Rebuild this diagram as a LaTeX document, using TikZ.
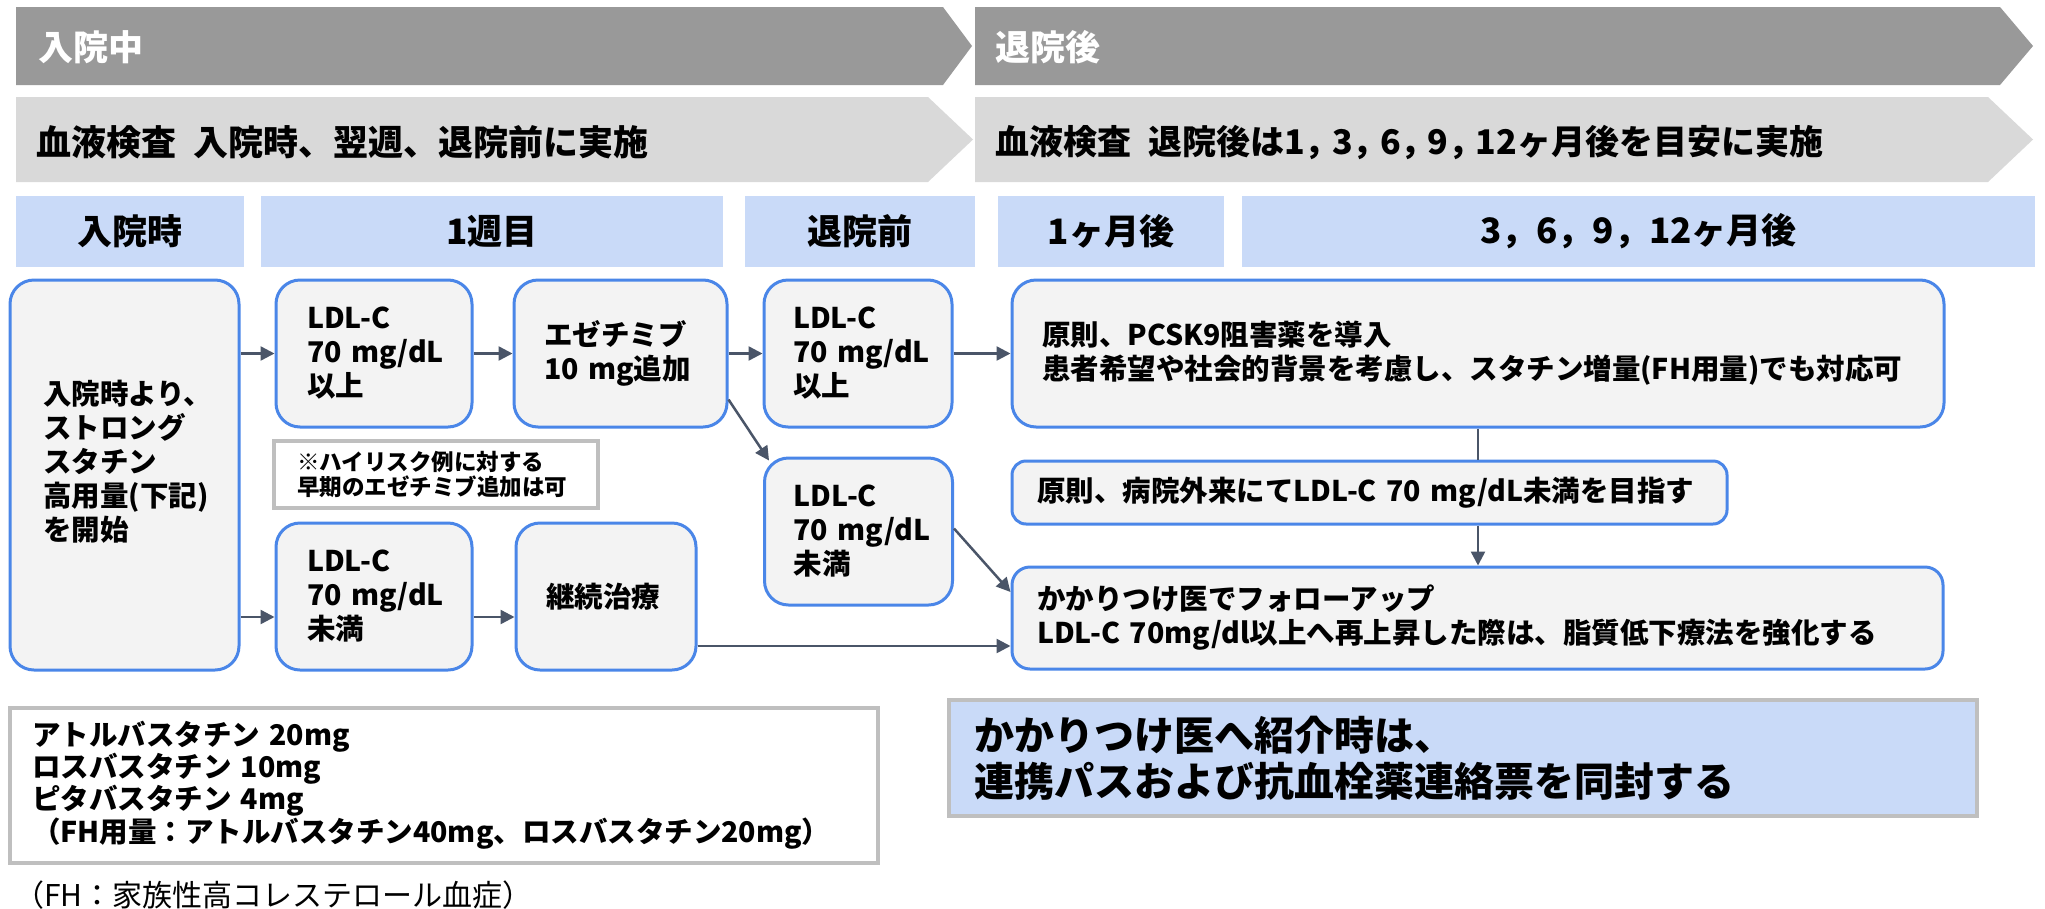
\documentclass[tikz,border=0pt]{standalone}
\usepackage{fontspec}
\setmainfont{Noto Sans CJK JP}
\usetikzlibrary{arrows.meta,calc}
\definecolor{bandDark}{HTML}{999999}
\definecolor{bandLight}{HTML}{D9D9D9}
\definecolor{hdrBlue}{HTML}{C9DAF8}
\definecolor{boxBorder}{HTML}{4A86E8}
\definecolor{boxFill}{HTML}{F3F3F3}
\definecolor{arrowCol}{HTML}{4A5568}
\definecolor{grayBorder}{HTML}{BFBFBF}
\newcommand{\tcm}{，\hspace{-0.2em}}
\tikzset{
  bandtext/.style={anchor=west, inner sep=0pt, font=\bfseries\fontsize{35}{40}\selectfont},
  hdr/.style={fill=hdrBlue, inner sep=0pt, font=\bfseries\fontsize{35}{40}\selectfont},
  flowbox/.style={draw=boxBorder, line width=3pt, fill=boxFill, rounded corners=24pt, align=left,
    inner ysep=0pt, font=\bfseries\fontsize{28.5}{34}\selectfont},
  boxtext/.style={anchor=west, align=left, inner sep=0pt, font=\bfseries\fontsize{28.5}{34}\selectfont},
  graybox/.style={draw=grayBorder, line width=4pt, fill=white, align=left, inner ysep=0pt},
  arr/.style={draw=arrowCol, line width=2.5pt, -{Triangle[length=14pt,width=14pt]}},
  plainline/.style={draw=arrowCol, line width=2.5pt},
}
\begin{document}
\begin{tikzpicture}[x=1pt,y=-1pt]
\fill[white] (0,0) rectangle (2045,908);
\useasboundingbox (0,0) rectangle (2045,908);
% phase bands
\fill[bandDark] (16,7) -- (943,7) -- (972,46) -- (943,85) -- (16,85) -- cycle;
\fill[bandDark] (975,7) -- (2000,7) -- (2033,46) -- (2000,85) -- (975,85) -- cycle;
\fill[bandLight] (16,97) -- (928,97) -- (973,139.5) -- (928,182) -- (16,182) -- cycle;
\fill[bandLight] (975,97) -- (1988,97) -- (2033,139.5) -- (1988,182) -- (975,182) -- cycle;
\node[bandtext, text=white] (inHosp) at (38,47) {入院中};
\node[bandtext, text=white] (afterDis) at (995,47) {退院後};
\node[bandtext] (bloodIn) at (36,142) {血液検査\hspace{0.5em}入院時、翌週、退院前に実施};
\node[bandtext, font=\bfseries\fontsize{34}{40}\selectfont] (bloodOut) at (995,142) {血液検査\hspace{0.5em}退院後は1\tcm 3\tcm 6\tcm 9\tcm 12ヶ月後を目安に実施};
% headers
\node[hdr, minimum width=228pt, minimum height=71pt] (h1) at (130,231) {入院時};
\node[hdr, minimum width=462pt, minimum height=71pt] (h2) at (492,231) {1週目};
\node[hdr, minimum width=230pt, minimum height=71pt] (h3) at (860,231) {退院前};
\node[hdr, minimum width=226pt, minimum height=71pt] (h4) at (1111,231) {1ヶ月後};
\node[hdr, minimum width=793pt, minimum height=71pt] (h5) at (1638.5,231) {3，6，9，12ヶ月後};
% flow boxes
\node[flowbox, minimum width=229pt, minimum height=390pt] (start) at (124.5,475) {};
\node[boxtext] (startText) at (43,462) {入院時より、\\ストロング\\スタチン\\高用量(下記)\\を開始};
\node[flowbox, inner xsep=31pt, text width=134pt, minimum width=196pt, minimum height=147pt] (A1) at (374,353.5) {LDL-C\\70~mg/dL\\以上};
\node[flowbox, inner xsep=30pt, text width=153pt, minimum width=213pt, minimum height=147pt] (E) at (620.5,353.5) {エゼチミブ\\10~mg追加};
\node[flowbox, inner xsep=29pt, text width=130pt, minimum width=188pt, minimum height=147pt] (B1) at (858,353.5) {LDL-C\\70~mg/dL\\以上};
\node[flowbox, inner xsep=29pt, text width=130pt, minimum width=188pt, minimum height=147pt] (B2) at (858.5,531.5) {LDL-C\\70~mg/dL\\未満};
\node[flowbox, inner xsep=31pt, text width=134pt, minimum width=196pt, minimum height=147pt] (A2) at (374,596.5) {LDL-C\\70~mg/dL\\未満};
\node[flowbox, inner xsep=30pt, text width=120pt, minimum width=180pt, minimum height=147pt] (K) at (606,596.5) {継続治療};
\node[graybox, inner xsep=23pt, text width=278pt, minimum width=324pt, minimum height=67pt,
  font=\bfseries\fontsize{22.5}{25.5}\selectfont] (note) at (436,474.5) {※ハイリスク例に対する\\早期のエゼチミブ追加は可};
\node[flowbox, inner xsep=30pt, text width=872pt, minimum width=932pt, minimum height=147pt] (P) at (1478,353.5) {原則、PCSK9阻害薬を導入\\患者希望や社会的背景を考慮し、スタチン増量(FH用量)でも対応可};
\node[flowbox, rounded corners=14pt, inner xsep=25pt, text width=665pt, minimum width=715pt, minimum height=63pt] (G) at (1369.5,492.5) {原則、病院外来にてLDL-C 70 mg/dL未満を目指す};
\node[flowbox, rounded corners=18pt, inner xsep=25pt, text width=881pt, minimum width=931pt, minimum height=102pt] (F) at (1477.5,618) {かかりつけ医でフォローアップ\\LDL-C 70mg/dl以上へ再上昇した際は、脂質低下療法を強化する};
% lower boxes
\node[graybox, inner xsep=22pt, text width=824pt, minimum width=868pt, minimum height=155pt,
  font=\bfseries\fontsize{28.5}{30}\selectfont] (statins) at (444,785) {アトルバスタチン 20mg\\ロスバスタチン 10mg\\ピタバスタチン 4mg\\（FH用量：アトルバスタチン40mg、ロスバスタチン20mg）};
\node[graybox, fill=hdrBlue, inner xsep=25pt, text width=978pt, minimum width=1028pt, minimum height=116pt,
  font=\bfseries\fontsize{40}{46}\selectfont] (referral) at (1463,758) {かかりつけ医へ紹介時は、\\連携パスおよび抗血栓薬連絡票を同封する};
\node[anchor=west, inner sep=0pt, font=\fontsize{30}{32}\selectfont] (footnote) at (14,895) {（FH：家族性高コレステロール血症）};
% connectors
\coordinate (lowLvl) at (0,617);
\coordinate (kLvl) at (0,646);
\draw[arr] (start.east |- A1.west) -- (A1.west);
\draw[arr] (A1.east) -- (E.west);
\draw[arr] (E.east) -- (B1.west);
\draw[arr] (B1.east) -- (P.west);
\draw[arr] ($(E.east)+(0,46)$) -- ($(B2.north west)+(6,4)$);
\draw[arr] ($(B2.east)+(0,-3)$) -- ($(F.west)+(0,-26)$);
\draw[plainline] (P.south) -- (P.south |- G.north);
\draw[arr] (P.south |- G.south) -- (P.south |- F.north);
\draw[arr] (start.east |- lowLvl) -- (A2.west |- lowLvl);
\draw[arr] (A2.east |- lowLvl) -- (K.west |- lowLvl);
\draw[arr] (K.east |- kLvl) -- (F.west |- kLvl);
\end{tikzpicture}
\end{document}
